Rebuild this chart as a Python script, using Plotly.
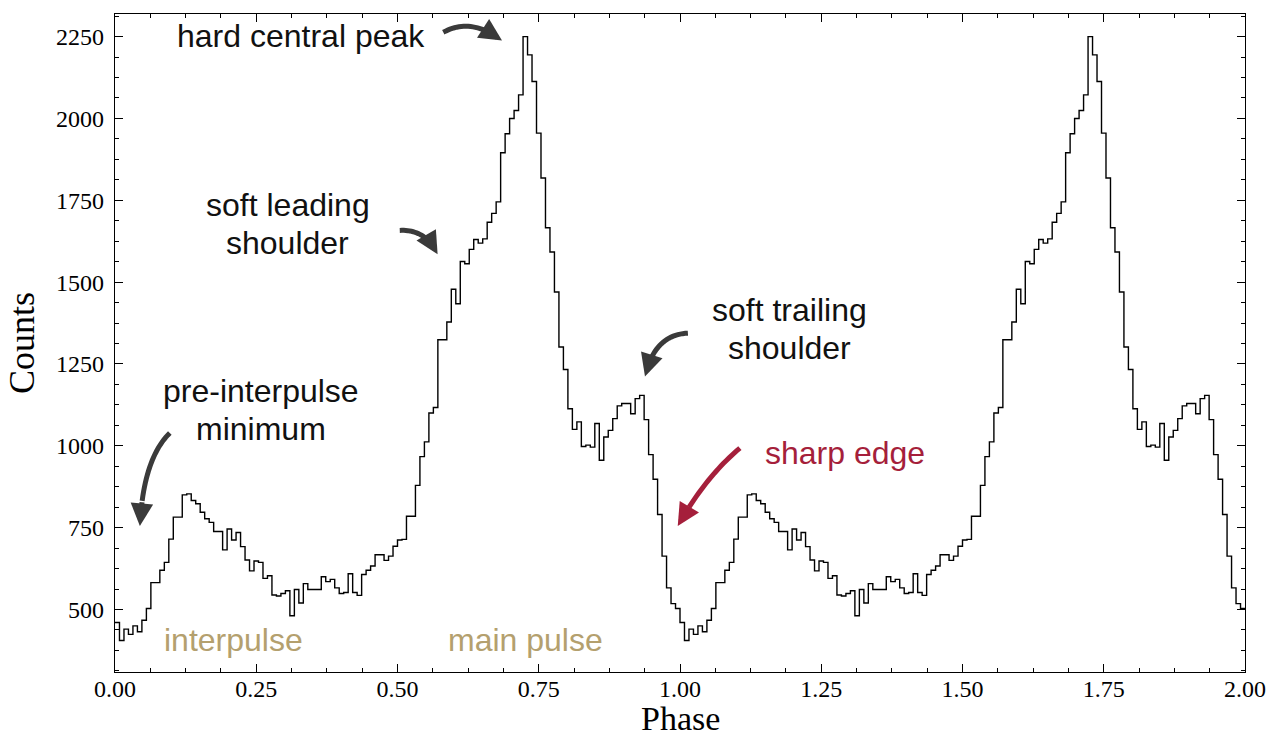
import plotly.graph_objects as go

# Folded pulse profile: counts per phase bin over one rotation (126 bins)
N_BINS = 126
profile = [
    460, 405, 440, 424, 450, 432, 467, 503, 582, 582,
    620, 644, 715, 782, 782, 850, 853, 833, 823, 797,
    777, 766, 738, 738, 682, 746, 712, 735, 692, 651,
    618, 648, 644, 595, 603, 544, 541, 549, 557, 481,
    561, 520, 579, 561, 561, 561, 600, 585, 592, 566,
    549, 552, 609, 552, 543, 607, 620, 633, 667, 667,
    650, 663, 693, 712, 714, 785, 785, 879, 967, 1012,
    1100, 1117, 1324, 1324, 1378, 1478, 1434, 1563, 1556, 1600,
    1630, 1619, 1632, 1683, 1710, 1745, 1895, 1953, 2000, 2024,
    2072, 2250, 2194, 2113, 1955, 1818, 1666, 1592, 1470, 1302,
    1233, 1113, 1050, 1073, 998, 1002, 996, 1068, 956, 1027,
    1047, 1083, 1122, 1129, 1129, 1098, 1144, 1154, 1080, 973,
    898, 790, 663, 566, 518, 503,
]
N_CYCLES = 2

x_ticks = [0.0, 0.25, 0.5, 0.75, 1.0, 1.25, 1.5, 1.75, 2.0]
y_ticks = [500, 750, 1000, 1250, 1500, 1750, 2000, 2250]

# Feature labels: (lines, phase, counts, colour)
labels = [
    (["hard central peak"], 0.329, 2253, "#111111"),
    (["soft leading", "shoulder"], 0.306, 1676, "#111111"),
    (["soft trailing", "shoulder"], 1.193, 1356, "#111111"),
    (["pre-interpulse", "minimum"], 0.258, 1109, "#111111"),
    (["sharp edge"], 1.292, 977, "#a51f3b"),
    (["interpulse"], 0.209, 407, "#b4a06e"),
    (["main pulse"], 0.727, 407, "#b4a06e"),
]

# Curved pointers: start, control, tip (phase, counts), colour
pointers = [
    ((0.581, 2263), (0.630, 2310), (0.685, 2238), "#3a3a3a"),
    ((0.504, 1658), (0.550, 1662), (0.571, 1585), "#3a3a3a"),
    ((1.014, 1344), (0.955, 1340), (0.938, 1212), "#3a3a3a"),
    ((0.097, 1039), (0.050, 960), (0.044, 755), "#3a3a3a"),
    ((1.106, 993), (1.045, 905), (0.996, 755), "#a51f3b"),
]

counts = profile * N_CYCLES
edges = [k / N_BINS for k in range(len(counts) + 1)]
step_y = counts + [counts[-1]]

SERIF = "Liberation Serif, Times New Roman"

fig = go.Figure()
fig.add_trace(go.Scatter(
    x=edges, y=step_y, mode="lines",
    line=dict(shape="hv", color="black", width=1.4),
    hoverinfo="skip", showlegend=False,
))


def bezier(p0, c, p1, t):
    return tuple((1 - t) ** 2 * a + 2 * (1 - t) * t * b + t ** 2 * d
                 for a, b, d in zip(p0, c, p1))


for p0, c, p1, col in pointers:
    # body of the pointer as a smooth quadratic curve
    pts = [bezier(p0, c, p1, i / 20 * 0.8) for i in range(21)]
    path = "M " + " L ".join(f"{px},{py}" for px, py in pts)
    fig.add_shape(type="path", path=path, xref="x", yref="y",
                  line=dict(color=col, width=5), layer="above")
    tail = pts[-1]
    fig.add_annotation(x=p1[0], y=p1[1], ax=tail[0], ay=tail[1],
                       xref="x", yref="y", axref="x", ayref="y",
                       text="", showarrow=True, arrowhead=2, arrowsize=0.9,
                       arrowwidth=5, arrowcolor=col, standoff=0,
                       startstandoff=0)

LINE_GAP = 38
for lines, px, py, col in labels:
    n = len(lines)
    for i, line in enumerate(lines):
        shift = ((n - 1) / 2 - i) * LINE_GAP
        fig.add_annotation(x=px, y=py, xref="x", yref="y", text=line,
                           showarrow=False, yshift=shift,
                           xanchor="center", yanchor="middle",
                           font=dict(family="Liberation Sans, Arial",
                                     size=32, color=col))

# x-axis title placed at the foot of the figure, under the tick labels
fig.add_annotation(x=0.5, y=0, xref="paper", yref="paper",
                   text="Phase", showarrow=False, borderpad=0,
                   xanchor="center", yanchor="bottom", yshift=-66,
                   font=dict(family=SERIF, size=34, color="black"))

axis_common = dict(
    showline=True, linecolor="black", linewidth=1.2, mirror="allticks",
    ticks="inside", ticklen=8, tickwidth=1.2, tickcolor="black",
    showgrid=False, zeroline=False, automargin=False,
    tickfont=dict(family=SERIF, size=24, color="black"),
)

fig.update_xaxes(
    range=[0, 2], tickvals=x_ticks, tickformat=".2f",
    minor=dict(dtick=0.0625, tick0=0, ticks="inside", ticklen=4,
               tickcolor="black", tickwidth=1),
    ticklabelstandoff=-5,
    **axis_common,
)
fig.update_yaxes(
    range=[309, 2319], tickvals=y_ticks,
    minor=dict(dtick=62.5, tick0=0, ticks="inside", ticklen=4,
               tickcolor="black", tickwidth=1),
    title=dict(text="Counts", standoff=10,
               font=dict(family=SERIF, size=36, color="black")),
    ticklabelstandoff=5,
    **axis_common,
)

fig.update_layout(
    width=1280, height=738,
    margin=dict(l=115, r=35, t=14, b=66),
    paper_bgcolor="white", plot_bgcolor="white",
    showlegend=False,
)

fig.write_html("out.html")
